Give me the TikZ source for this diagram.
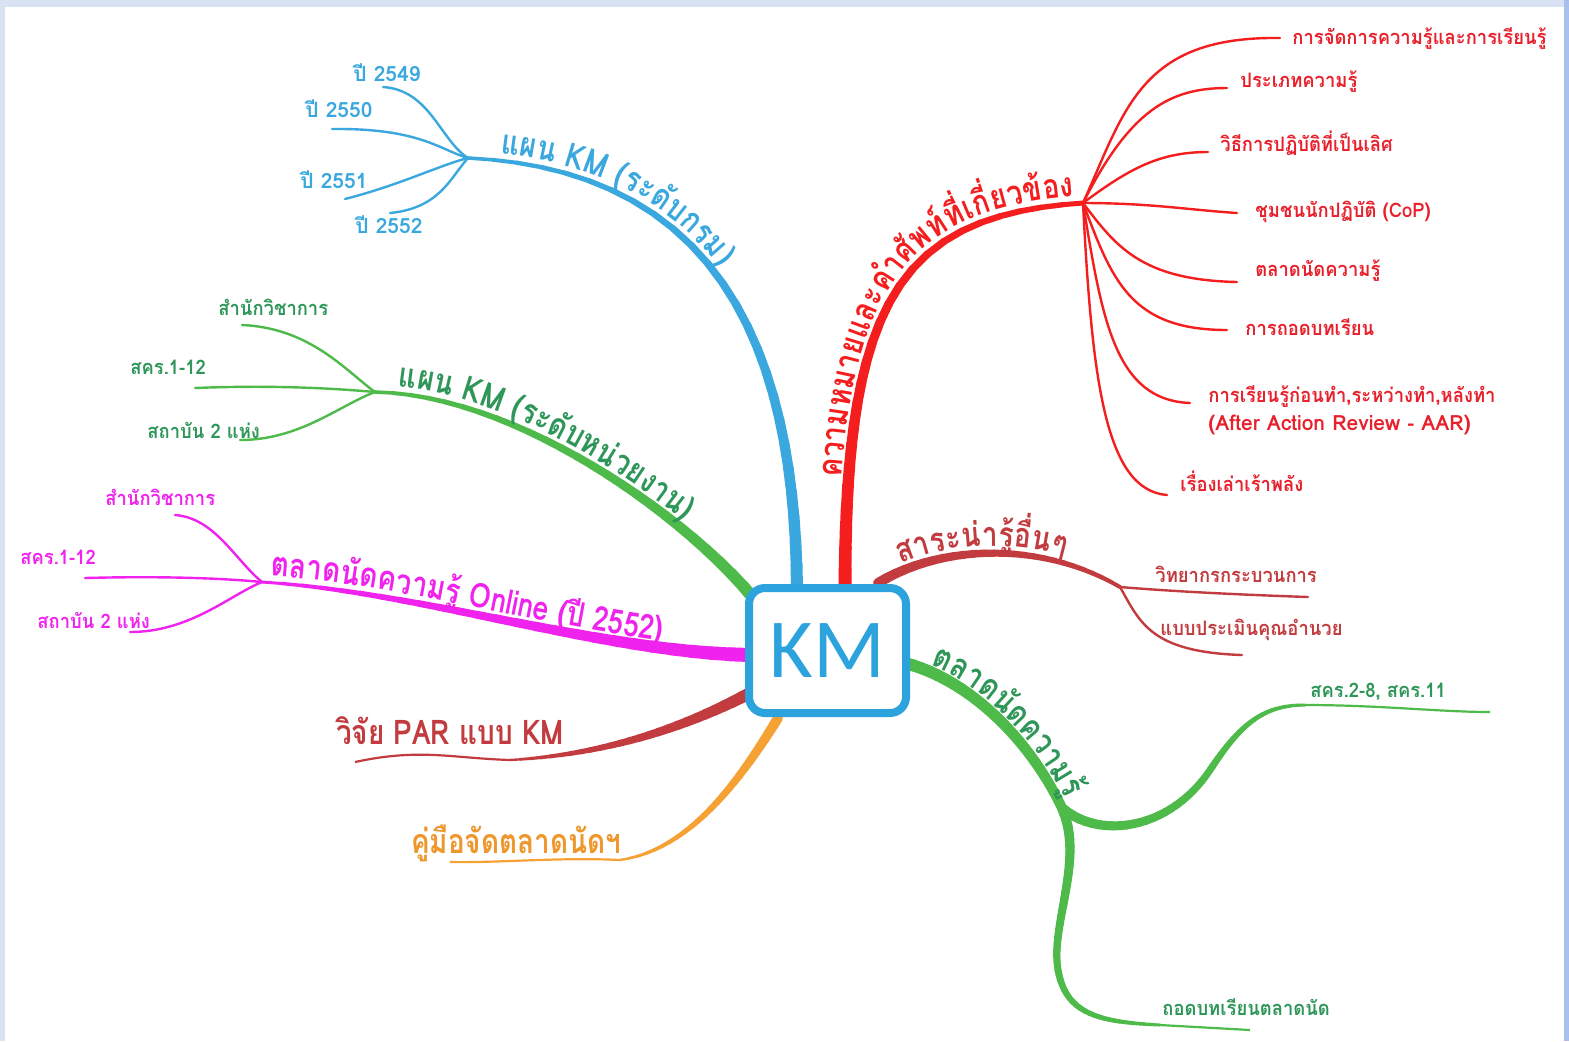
\documentclass[tikz,border=0pt]{standalone}
\usepackage{fontspec}
\setmainfont[Script=Thai]{Loma}
\newfontfamily\thaiA[Script=Thai,FakeStretch=0.82]{Loma}
\newfontfamily\thaiB[Script=Thai,FakeStretch=0.92]{Loma}
\newfontfamily\kmfont{Carlito}
\newcommand\mlbl{\thaiA\bfseries\fontsize{17}{20}\selectfont}
\newcommand\slbl{\thaiB\bfseries\fontsize{10}{12}\selectfont}
\newcommand\ylbl{\normalfont\bfseries\fontsize{10.5}{12}\selectfont}
\usetikzlibrary{decorations.markings,decorations.text}
\definecolor{bgBlue}{HTML}{D8E2F3}
\definecolor{edgeBlue}{HTML}{A8C0EA}
\definecolor{cBlue}{HTML}{3AA8DE}
\definecolor{boxBlue}{HTML}{2CA3DD}
\definecolor{cGreen}{HTML}{4DBA4A}
\definecolor{tGreen}{HTML}{2E9658}
\definecolor{cMag}{HTML}{F022EE}
\definecolor{cRed}{HTML}{F41E1E}
\definecolor{tRed}{HTML}{E8202C}
\definecolor{cDRed}{HTML}{C23B3F}
\definecolor{cOrange}{HTML}{F6A134}
\definecolor{tOrange}{HTML}{EE972C}

\newcommand\taperpath[7]{%
  \path[decoration={markings,mark=between positions 0 and 1 step 0.04 with {\coordinate (tp\pgfkeysvalueof{/pgf/decoration/mark info/sequence number});}},decorate] (#1) .. controls (#2) and (#3) .. (#4);
  \foreach \i in {1,...,24}{%
    \pgfmathsetmacro\tpw{#5+(#6-#5)*(\i-1)/24}%
    \pgfmathtruncatemacro\tpj{\i+1}%
    \draw[#7,line width=\tpw pt,line cap=round] (tp\i) -- (tp\tpj);
  }%
  \draw[#7,line width=#6pt,line cap=round] (tp25) -- (#4);
}

\begin{document}
\begin{tikzpicture}[x=0.5pt,y=-0.5pt,
  sub/.style={line width=1.2pt,line cap=round},
  lblbig/.style={inner sep=0pt,font=\mlbl},
  lblsub/.style={inner sep=0pt,anchor=west,font=\slbl},
  lblyear/.style={inner sep=0pt,anchor=west,font=\ylbl},
  curvelbl/.style 2 args={decorate,decoration={text along path,raise=3.5pt,
      text align={left indent=#1},text={#2}}}]
\useasboundingbox (0,0) rectangle (1569,1041);
\fill[bgBlue] (0,0) rectangle (1569,1041);
\fill[edgeBlue] (1564,0) rectangle (1569,1041);
\fill[white] (5,7) rectangle (1564,1041);

% ---------- coordinates ----------
\coordinate (kmB) at (797,590);  \coordinate (hB) at (468,158);
\coordinate (kmG) at (755,600);  \coordinate (hG) at (375,392);
\coordinate (kmM) at (750,655);  \coordinate (hM) at (262,582);
\coordinate (kmP) at (750,693);  \coordinate (hP) at (510,760); \coordinate (eP) at (355,762);
\coordinate (kmO) at (778,718);  \coordinate (hO) at (620,860); \coordinate (eO) at (450,862);
\coordinate (kmR) at (845,590);  \coordinate (hR) at (1083,203);
\coordinate (kmS) at (878,583);  \coordinate (hS) at (1120,587);
\coordinate (kmG2) at (905,663); \coordinate (hG2) at (1062,808);
\coordinate (mG2a) at (1210,770); \coordinate (jG2a) at (1305,705); \coordinate (eG2a) at (1490,712);
\coordinate (mG2b) at (1058,970); \coordinate (jG2b) at (1160,1025); \coordinate (eG2b) at (1250,1030);

% ---------- blue ----------
\taperpath{kmB}{795,350}{720,170}{hB}{6}{1.8}{cBlue}
\coordinate (e2549) at (383,87); \coordinate (e2550) at (332,129);
\coordinate (e2551) at (345,199); \coordinate (e2552) at (390,213);
\draw[sub,cBlue] (hB) .. controls (440,140) and (430,90) .. (e2549);
\draw[sub,cBlue] (hB) .. controls (440,150) and (420,128) .. (e2550);
\draw[sub,cBlue] (hB) .. controls (440,165) and (400,185) .. (e2551);
\draw[sub,cBlue] (hB) .. controls (450,178) and (440,208) .. (e2552);
\node[lblyear,text=cBlue] (t2549) at (353,73) {ปี 2549};
\node[lblyear,text=cBlue] (t2550) at (305,109) {ปี 2550};
\node[lblyear,text=cBlue] (t2551) at (300,180) {ปี 2551};
\node[lblyear,text=cBlue] (t2552) at (355,225) {ปี 2552};
\path[curvelbl={16pt}{|\mlbl\color{cBlue}|แผน KM (ระ{ดั}บกรม)}]
  (hB) .. controls (720,170) and (795,350) .. (kmB);

% ---------- green 1 ----------
\taperpath{kmG}{690,520}{520,395}{hG}{6}{1.8}{cGreen}
\coordinate (eG1) at (242,325); \coordinate (eG2) at (195,388); \coordinate (eG3) at (240,440);
\draw[sub,cGreen] (hG) .. controls (345,370) and (310,328) .. (eG1);
\draw[sub,cGreen] (hG) .. controls (330,388) and (270,385) .. (eG2);
\draw[sub,cGreen] (hG) .. controls (340,405) and (300,440) .. (eG3);
\node[lblsub,text=tGreen] (tg1) at (218,307) {สำนักวิชาการ};
\node[lblsub,text=tGreen] (tg2) at (130,367) {สคร.1-12};
\node[lblsub,text=tGreen] (tg3) at (147,430) {สถาบัน 2 แห่ง};
\path[curvelbl={11pt}{|\mlbl\color{tGreen}|แผน KM (ระ{ดั}บห{น่}วยงาน)}]
  (hG) .. controls (520,395) and (690,520) .. (kmG);

% ---------- magenta ----------
\taperpath{kmM}{600,652}{420,592}{hM}{7}{1.5}{cMag}
\coordinate (eM1) at (175,515); \coordinate (eM2) at (85,578); \coordinate (eM3) at (130,632);
\draw[sub,cMag] (hM) .. controls (235,560) and (215,518) .. (eM1);
\draw[sub,cMag] (hM) .. controls (220,578) and (160,576) .. (eM2);
\draw[sub,cMag] (hM) .. controls (230,595) and (190,632) .. (eM3);
\node[lblsub,text=cMag] (tm1) at (105,497) {สำนักวิชาการ};
\node[lblsub,text=cMag] (tm2) at (20,557) {สคร.1-12};
\node[lblsub,text=cMag] (tm3) at (37,620) {สถาบัน 2 แห่ง};
\path[curvelbl={4pt}{|\mlbl\color{cMag}|ตลาด{นั}ดความ{รู้} Online ({ปี} 2552)}]
  (hM) .. controls (420,592) and (600,652) .. (kmM);

% ---------- PAR ----------
\taperpath{kmP}{680,730}{600,755}{hP}{6}{1.2}{cDRed}
\draw[cDRed,line width=1.1pt] (hP) .. controls (450,758) and (420,748) .. (eP);
\node[lblbig,text=cDRed] (par) at (450,731) {วิจัย PAR แบบ KM};

% ---------- orange ----------
\taperpath{kmO}{740,780}{690,850}{hO}{5}{1.2}{cOrange}
\draw[cOrange,line width=1.1pt] (hO) .. controls (560,857) and (500,863) .. (eO);
\node[lblbig,text=tOrange] (man) at (516,843) {คู่มือจัดตลาดนัดฯ};

% ---------- red ----------
\taperpath{kmR}{845,300}{900,215}{hR}{6.5}{2.5}{cRed}
\coordinate (eR1) at (1280,38); \coordinate (eR2) at (1227,88);
\coordinate (eR3) at (1208,152); \coordinate (eR4) at (1237,213);
\coordinate (eR5) at (1237,282); \coordinate (eR6) at (1227,330);
\coordinate (eR7) at (1190,403); \coordinate (eR8) at (1167,495);
\draw[sub,cRed] (hR) .. controls (1125,110) and (1140,36) .. (eR1);
\draw[sub,cRed] (hR) .. controls (1130,110) and (1170,88) .. (eR2);
\draw[sub,cRed] (hR) .. controls (1130,168) and (1160,152) .. (eR3);
\draw[sub,cRed] (hR) .. controls (1150,203) and (1190,210) .. (eR4);
\draw[sub,cRed] (hR) .. controls (1115,245) and (1140,280) .. (eR5);
\draw[sub,cRed] (hR) .. controls (1112,280) and (1130,330) .. (eR6);
\draw[sub,cRed] (hR) .. controls (1102,320) and (1115,400) .. (eR7);
\draw[sub,cRed] (hR) .. controls (1092,380) and (1105,490) .. (eR8);
\node[lblsub,text=tRed] (tr1) at (1292,38) {การจัดการความรู้และการเรียนรู้};
\node[lblsub,text=tRed] (tr2) at (1240,82) {ประเภทความรู้};
\node[lblsub,text=tRed] (tr3) at (1220,143) {วิธีการปฏิบัติที่เป็นเลิศ};
\node[lblsub,text=tRed] (tr4) at (1255,212) {ชุมชนนักปฏิบัติ (CoP)};
\node[lblsub,text=tRed] (tr5) at (1255,271) {ตลาดนัดความรู้};
\node[lblsub,text=tRed] (tr6) at (1245,327) {การถอดบทเรียน};
\node[lblsub,text=tRed,align=left] (tr7) at (1208,410) {การเรียนรู้ก่อนทำ,ระหว่างทำ,หลังทำ\\[2pt]{\ylbl (After Action Review - AAR)}};
\node[lblsub,text=tRed] (tr8) at (1180,481) {เรื่องเล่าเร้าพลัง};
\path[curvelbl={56pt}{|\mlbl\color{cRed}|ความหมายและคำ{ศั}พ{ท์}{ที่}เ{กี่}ยว{ข้}อง}]
  (kmR) .. controls (845,300) and (900,215) .. (hR);

% ---------- sara ----------
\taperpath{kmS}{940,545}{1040,540}{hS}{5}{2}{cDRed}
\coordinate (eS1) at (1308,597); \coordinate (eS2) at (1242,655);
\draw[sub,cDRed] (hS) .. controls (1180,592) and (1250,595) .. (eS1);
\draw[sub,cDRed] (hS) .. controls (1140,622) and (1150,652) .. (eS2);
\node[lblsub,text=cDRed] (ts1) at (1155,574) {วิทยากรกระบวนการ};
\node[lblsub,text=cDRed] (ts2) at (1160,630) {แบบประเมินคุณอำนวย};
\path[curvelbl={14pt}{|\mlbl\color{cDRed}|สาระ{น่}า{รู้}{อื่}นๆ}]
  (kmS) .. controls (940,545) and (1040,540) .. (hS);

% ---------- green 2 ----------
\taperpath{kmG2}{970,680}{1030,740}{hG2}{6}{5}{cGreen}
\taperpath{hG2}{1100,840}{1170,830}{mG2a}{5}{3.5}{cGreen}
\taperpath{mG2a}{1240,725}{1262,705}{jG2a}{3.5}{1.5}{cGreen}
\draw[cGreen,line width=1.1pt] (jG2a) .. controls (1380,705) and (1440,712) .. (eG2a);
\taperpath{hG2}{1085,860}{1050,925}{mG2b}{5}{3.5}{cGreen}
\taperpath{mG2b}{1066,1015}{1100,1022}{jG2b}{3.5}{1.5}{cGreen}
\draw[cGreen,line width=1.1pt] (jG2b) -- (eG2b);
\node[lblsub,text=tGreen] (tk1) at (1310,692) {สคร.2-8, สคร.11};
\node[lblsub,text=tGreen] (tk2) at (1162,1007) {ถอดบทเรียนตลาดนัด};
\path[curvelbl={12pt}{|\mlbl\color{tGreen}|ตลาด{นั}ดความ{รู้}}]
  (kmG2) .. controls (970,680) and (1030,740) .. (hG2);

% ---------- central box ----------
\node[draw=boxBlue,line width=4pt,rounded corners=8pt,fill=white,
      minimum width=78.5pt,minimum height=62.5pt,inner sep=0pt,
      text=boxBlue,font=\kmfont\fontsize{42}{46}\selectfont] (km) at (827.5,650.5) {KM};
\end{tikzpicture}
\end{document}
